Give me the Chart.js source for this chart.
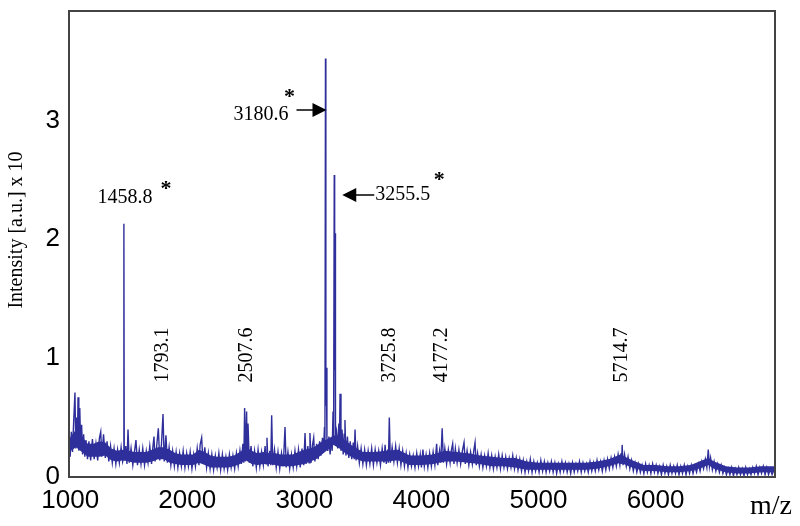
<!DOCTYPE html>
<html>
<head>
<meta charset="utf-8">
<script src="https://cdn.jsdelivr.net/npm/chart.js@4"></script>
<style>
  html, body { margin: 0; padding: 0; background: #fff; }
</style>
</head>
<body>
<canvas id="myChart" width="800" height="526"></canvas>
<script>
'use strict';

// m/z range and tick labels
let xMin = 990;
let xMax = 7020;
let xTicks = [1000, 2000, 3000, 4000, 5000, 6000];
let yTicks = [0, 1, 2, 3];
let yMax = 3.92;

// spectrum: [m/z, intensity (a.u. x 10)]
let spectrum = [
    [990,.30],[1000,.17],[1010,.38],[1020,.21],[1030,.47],[1041,.71],[1048,.24],[1055,.50],[1062,.27],[1067,.67],
    [1074,.22],[1082,.58],[1090,.25],[1098,.44],[1106,.19],[1115,.36],[1125,.17],[1135,.31],[1148,.15],[1160,.30],
    [1175,.14],[1190,.32],[1205,.15],[1220,.28],[1235,.14],[1250,.33],[1261,.38],[1270,.17],[1285,.36],[1300,.16],
    [1315,.30],[1330,.13],[1345,.26],[1360,.12],[1375,.24],[1390,.11],[1405,.23],[1420,.12],[1435,.25],[1448,.13],
    [1455,.16],[1458.8,2.13],[1462,.14],[1475,.26],[1485,.11],[1494,.40],[1505,.12],[1520,.24],[1535,.10],[1550,.22],
    [1562,.31],[1575,.10],[1590,.23],[1605,.11],[1620,.24],[1635,.10],[1650,.22],[1665,.12],[1680,.26],[1695,.11],
    [1705,.24],[1716,.34],[1725,.13],[1740,.27],[1753,.41],[1765,.14],[1780,.28],[1793,.53],[1803,.13],[1818,.35],
    [1830,.12],[1845,.25],[1860,.10],[1875,.22],[1890,.09],[1905,.21],[1920,.08],[1935,.20],[1950,.09],[1965,.22],
    [1980,.08],[1995,.20],[2010,.09],[2025,.21],[2040,.07],[2055,.19],[2070,.09],[2085,.24],[2100,.10],[2110,.27],
    [2123,.33],[2135,.11],[2150,.25],[2165,.08],[2180,.20],[2195,.07],[2210,.19],[2225,.06],[2240,.18],[2255,.08],
    [2270,.20],[2285,.06],[2300,.19],[2315,.07],[2330,.17],[2345,.06],[2360,.19],[2375,.08],[2390,.18],[2405,.07],
    [2420,.20],[2435,.09],[2450,.22],[2462,.11],[2475,.28],[2483,.12],[2490,.58],[2498,.13],[2507,.55],[2512,.14],
    [2519,.45],[2530,.12],[2545,.26],[2560,.09],[2575,.22],[2590,.08],[2605,.23],[2620,.09],[2635,.21],[2650,.10],
    [2665,.26],[2673,.11],[2681,.33],[2690,.09],[2705,.22],[2713,.10],[2721,.52],[2730,.10],[2745,.23],[2760,.08],
    [2775,.21],[2790,.07],[2805,.20],[2820,.09],[2835,.42],[2845,.08],[2860,.21],[2875,.07],[2890,.19],[2905,.08],
    [2920,.22],[2935,.09],[2950,.23],[2965,.08],[2980,.24],[2995,.10],[3006,.37],[3015,.11],[3030,.26],[3040,.12],
    [3048,.37],[3058,.12],[3070,.27],[3080,.33],[3090,.13],[3105,.28],[3118,.15],[3130,.30],[3142,.18],[3155,.33],
    [3164,.21],[3172,.42],[3176,.30],[3180.6,3.52],[3184,.60],[3188,.92],[3193,.30],[3200,.22],[3210,.34],[3220,.19],
    [3230,.33],[3238,.22],[3245,.55],[3250,.30],[3255.5,2.54],[3259,.90],[3262,2.05],[3266,.32],[3275,.38],[3285,.24],
    [3295,.45],[3300,.26],[3305,.70],[3313,.22],[3322,.40],[3332,.19],[3340,.36],[3347,.48],[3355,.18],[3368,.34],
    [3380,.16],[3392,.30],[3405,.15],[3418,.29],[3426,.15],[3433,.40],[3442,.14],[3455,.26],[3470,.12],[3485,.24],
    [3500,.11],[3515,.23],[3530,.10],[3545,.22],[3560,.11],[3575,.24],[3590,.10],[3605,.23],[3620,.12],[3635,.22],
    [3650,.10],[3665,.24],[3680,.12],[3690,.27],[3700,.11],[3712,.23],[3718,.12],[3725.8,.50],[3735,.12],[3750,.25],
    [3765,.13],[3780,.26],[3795,.12],[3810,.24],[3825,.10],[3840,.22],[3855,.09],[3870,.20],[3885,.08],[3900,.19],
    [3915,.09],[3930,.18],[3945,.08],[3960,.20],[3975,.09],[3990,.19],[4000,.08],[4013,.23],[4025,.09],[4040,.19],
    [4055,.08],[4070,.20],[4085,.09],[4100,.21],[4115,.10],[4130,.28],[4140,.10],[4155,.22],[4165,.12],[4177.2,.41],
    [4188,.12],[4200,.24],[4215,.11],[4230,.23],[4245,.12],[4255,.22],[4267,.28],[4278,.11],[4290,.24],[4305,.12],
    [4320,.23],[4335,.11],[4350,.22],[4364,.29],[4375,.11],[4390,.22],[4405,.10],[4420,.21],[4435,.11],[4447,.22],
    [4458,.29],[4468,.10],[4480,.20],[4495,.09],[4510,.19],[4525,.08],[4540,.18],[4555,.09],[4570,.20],[4585,.08],
    [4600,.18],[4615,.07],[4630,.17],[4645,.08],[4660,.19],[4675,.07],[4690,.18],[4705,.08],[4720,.17],[4735,.07],
    [4750,.16],[4765,.08],[4780,.18],[4795,.07],[4810,.16],[4825,.06],[4840,.15],[4855,.05],[4870,.14],[4885,.04],
    [4900,.13],[4915,.05],[4930,.15],[4945,.04],[4960,.13],[4975,.05],[4990,.12],[5005,.04],[5020,.14],[5035,.05],
    [5050,.13],[5065,.04],[5080,.12],[5095,.05],[5110,.13],[5125,.04],[5140,.12],[5155,.03],[5170,.11],[5185,.04],
    [5200,.13],[5215,.05],[5230,.12],[5245,.04],[5260,.11],[5275,.03],[5290,.12],[5305,.04],[5320,.11],[5335,.05],
    [5350,.13],[5365,.04],[5380,.12],[5395,.05],[5410,.11],[5425,.04],[5440,.13],[5455,.05],[5470,.12],[5485,.05],
    [5500,.14],[5515,.06],[5530,.13],[5545,.05],[5560,.14],[5575,.06],[5590,.15],[5605,.07],[5620,.16],[5635,.08],
    [5650,.17],[5665,.09],[5680,.19],[5695,.10],[5705,.20],[5709,.11],[5714.7,.27],[5722,.10],[5735,.19],[5750,.09],
    [5765,.17],[5780,.07],[5795,.14],[5810,.05],[5825,.12],[5840,.04],[5855,.11],[5870,.04],[5885,.10],[5900,.03],
    [5915,.11],[5930,.04],[5945,.10],[5960,.03],[5975,.11],[5990,.04],[6005,.10],[6020,.03],[6035,.09],[6050,.02],
    [6065,.10],[6080,.03],[6095,.09],[6110,.02],[6125,.10],[6140,.03],[6155,.09],[6170,.03],[6185,.10],[6200,.02],
    [6215,.09],[6230,.03],[6245,.10],[6260,.02],[6275,.09],[6290,.03],[6305,.10],[6320,.03],[6335,.09],[6350,.04],
    [6365,.11],[6380,.05],[6395,.13],[6410,.07],[6425,.15],[6438,.08],[6450,.23],[6460,.09],[6470,.16],[6485,.06],
    [6500,.13],[6515,.05],[6530,.11],[6545,.04],[6560,.10],[6575,.03],[6590,.08],[6605,.02],[6620,.07],[6635,.02],
    [6650,.08],[6665,.01],[6680,.07],[6695,.02],[6710,.08],[6725,.02],[6740,.07],[6755,.01],[6770,.08],[6785,.02],
    [6800,.07],[6815,.02],[6830,.08],[6845,.03],[6860,.09],[6875,.02],[6890,.08],[6905,.03],[6920,.09],[6935,.02],
    [6950,.08],[6965,.02],[6980,.07],[6995,.02],[7010,.06],[7020,.03]
];

// upper and lower edge of the solid core of the noise band
let noiseTop = [
    [990,.32],[1050,.40],[1100,.34],[1150,.28],[1200,.28],[1250,.30],[1300,.29],[1350,.24],[1400,.22],[1450,.23],
    [1500,.22],[1550,.21],[1600,.21],[1650,.21],[1700,.23],[1750,.25],[1800,.25],[1850,.23],[1900,.20],[1950,.19],
    [2000,.19],[2050,.19],[2100,.23],[2150,.21],[2200,.18],[2250,.17],[2300,.17],[2350,.17],[2400,.18],[2450,.21],
    [2500,.25],[2550,.22],[2600,.20],[2650,.21],[2700,.20],[2750,.20],[2800,.19],[2850,.19],[2900,.19],[2950,.21],
    [3000,.23],[3050,.24],[3100,.26],[3150,.30],[3200,.32],[3250,.35],[3300,.35],[3350,.31],[3400,.27],[3450,.24],
    [3500,.21],[3600,.21],[3700,.22],[3800,.23],[3900,.18],[4000,.18],[4100,.19],[4200,.22],[4300,.21],[4400,.20],
    [4500,.18],[4600,.17],[4700,.16],[4800,.16],[4900,.13],[5000,.12],[5100,.12],[5200,.12],[5300,.12],[5400,.12],
    [5500,.13],[5600,.15],[5700,.19],[5800,.14],[5900,.10],[6000,.10],[6100,.09],[6200,.09],[6300,.10],[6400,.14],
    [6450,.16],[6500,.13],[6600,.09],[6700,.08],[6800,.08],[6900,.09],[7020,.09]
];
let noiseFloor = [
    [990,.21],[1050,.25],[1100,.21],[1150,.17],[1200,.17],[1250,.17],[1300,.18],[1350,.14],[1400,.13],[1450,.14],
    [1500,.13],[1550,.12],[1600,.12],[1650,.12],[1700,.13],[1750,.15],[1800,.15],[1850,.12],[1900,.11],[1950,.10],
    [2000,.10],[2050,.10],[2100,.12],[2150,.10],[2200,.08],[2250,.08],[2300,.08],[2350,.08],[2400,.09],[2450,.11],
    [2500,.14],[2550,.11],[2600,.10],[2650,.11],[2700,.11],[2750,.10],[2800,.09],[2850,.09],[2900,.09],[2950,.10],
    [3000,.11],[3050,.13],[3100,.15],[3150,.19],[3200,.23],[3250,.27],[3300,.24],[3350,.20],[3400,.17],[3450,.15],
    [3500,.13],[3600,.13],[3700,.13],[3800,.14],[3900,.10],[4000,.10],[4100,.11],[4200,.13],[4300,.13],[4400,.12],
    [4500,.11],[4600,.09],[4700,.09],[4800,.08],[4900,.06],[5000,.06],[5100,.06],[5200,.06],[5300,.06],[5400,.06],
    [5500,.07],[5600,.09],[5700,.12],[5800,.08],[5900,.05],[6000,.05],[6100,.04],[6200,.04],[6300,.05],[6400,.08],
    [6450,.10],[6500,.07],[6600,.04],[6700,.03],[6800,.03],[6900,.04],[7020,.04]
];

// annotated peaks
let starredMz = [1458.8, 3180.6, 3255.5];
let starredHeight = [2.13, 3.52, 2.54];
let minorMz = [1793.1, 2507.6, 3725.8, 4177.2, 5714.7];

let serif = 'Liberation Serif';
let sans = 'Liberation Sans';
let traceColor = '#2f2f9c';

function toPoints(pairs) {
    return pairs.map(p => ({ x: p[0], y: p[1] }));
}

function drawStar(ctx, x, y) {
    ctx.font = 'bold 22px ' + serif;
    ctx.textAlign = 'center';
    ctx.textBaseline = 'middle';
    ctx.fillText('*', x, y + 3);
}

function drawArrow(ctx, fromX, toX, yPos) {
    let dir = toX > fromX ? 1 : -1;
    ctx.lineWidth = 1.5;
    ctx.beginPath();
    ctx.moveTo(fromX, yPos);
    ctx.lineTo(toX - dir * 10, yPos);
    ctx.stroke();
    ctx.beginPath();
    ctx.moveTo(toX, yPos);
    ctx.lineTo(toX - dir * 14, yPos - 7);
    ctx.lineTo(toX - dir * 14, yPos + 7);
    ctx.closePath();
    ctx.fill();
}

let peakNotes = {
    id: 'peakNotes',
    afterDraw(chart) {
        let ctx = chart.ctx;
        let xs = chart.scales.x;
        let ys = chart.scales.y;
        let area = chart.chartArea;
        ctx.save();

        // frame round the plot
        ctx.strokeStyle = '#444';
        ctx.lineWidth = 2;
        ctx.strokeRect(area.left, area.top, area.right - area.left, area.bottom - area.top);

        ctx.fillStyle = '#000';
        ctx.strokeStyle = '#000';

        // 1458.8 *
        let p1 = xs.getPixelForValue(starredMz[0]);
        let t1 = ys.getPixelForValue(starredHeight[0]);
        ctx.font = '20px ' + serif;
        ctx.textAlign = 'center';
        ctx.textBaseline = 'middle';
        ctx.fillText('1458.8', p1 + 1, t1 - 26);
        drawStar(ctx, p1 + 42, t1 - 37);

        // 3180.6 * ->
        let p2 = xs.getPixelForValue(starredMz[1]);
        ctx.font = '20px ' + serif;
        ctx.textAlign = 'right';
        ctx.textBaseline = 'middle';
        ctx.fillText('3180.6', p2 - 37, 115);
        drawStar(ctx, p2 - 36, 94);
        drawArrow(ctx, p2 - 29, p2 + 1, 110);

        // <- 3255.5 *
        let p3 = xs.getPixelForValue(starredMz[2]);
        drawArrow(ctx, p3 + 40, p3 + 8, 195);
        ctx.font = '20px ' + serif;
        ctx.textAlign = 'left';
        ctx.textBaseline = 'middle';
        ctx.fillText('3255.5', p3 + 41, 195);
        drawStar(ctx, p3 + 105, 177);

        // upright labels of the smaller peaks
        ctx.font = '20px ' + serif;
        ctx.textAlign = 'center';
        ctx.textBaseline = 'middle';
        for (let i = 0; i < minorMz.length; i++) {
            ctx.save();
            ctx.translate(xs.getPixelForValue(minorMz[i]), 355);
            ctx.rotate(-Math.PI / 2);
            ctx.fillText(minorMz[i].toFixed(1), 0, 0);
            ctx.restore();
        }

        // axis names
        ctx.save();
        ctx.translate(17, 230);
        ctx.rotate(-Math.PI / 2);
        ctx.font = '20px ' + serif;
        ctx.fillText('Intensity [a.u.] x 10', 0, 0);
        ctx.restore();

        ctx.font = '28px ' + serif;
        ctx.textAlign = 'center';
        ctx.textBaseline = 'alphabetic';
        ctx.fillText('m/z', 771, 514);

        ctx.restore();
    }
};

let ctx = document.getElementById('myChart').getContext('2d');
let myChart = new Chart(ctx, {
    type: 'line',
    data: {
        datasets: [{
            data: toPoints(spectrum),
            borderColor: traceColor,
            borderWidth: 1.4,
            pointRadius: 0,
            tension: 0,
            fill: false
        }, {
            data: toPoints(noiseTop),
            borderWidth: 0,
            borderColor: 'rgba(0,0,0,0)',
            backgroundColor: traceColor,
            pointRadius: 0,
            tension: 0,
            fill: '+1'
        }, {
            data: toPoints(noiseFloor),
            borderWidth: 0,
            borderColor: 'rgba(0,0,0,0)',
            pointRadius: 0,
            tension: 0,
            fill: false
        }]
    },
    options: {
        responsive: false,
        animation: false,
        events: [],
        layout: { padding: { left: 0, top: 11, right: 25, bottom: 0 } },
        plugins: {
            legend: { display: false },
            tooltip: { enabled: false }
        },
        scales: {
            x: {
                type: 'linear',
                min: xMin,
                max: xMax,
                afterBuildTicks: s => { s.ticks = xTicks.map(v => ({ value: v })); },
                afterFit: s => { s.height = 49; s.paddingLeft = 0; s.paddingRight = 0; },
                grid: { display: false, drawTicks: false },
                border: { display: false },
                ticks: {
                    color: '#000',
                    padding: 8,
                    maxRotation: 0,
                    callback: v => String(v),
                    font: { family: sans, size: 26 }
                }
            },
            y: {
                min: 0,
                max: yMax,
                afterBuildTicks: s => { s.ticks = yTicks.map(v => ({ value: v })); },
                afterFit: s => { s.width = 69; s.paddingTop = 0; s.paddingBottom = 0; },
                grid: { display: false, drawTicks: false },
                border: { display: false },
                ticks: {
                    color: '#000',
                    padding: 9,
                    callback: v => String(v),
                    font: { family: sans, size: 26 }
                }
            }
        }
    },
    plugins: [peakNotes]
});
</script>
</body>
</html>
